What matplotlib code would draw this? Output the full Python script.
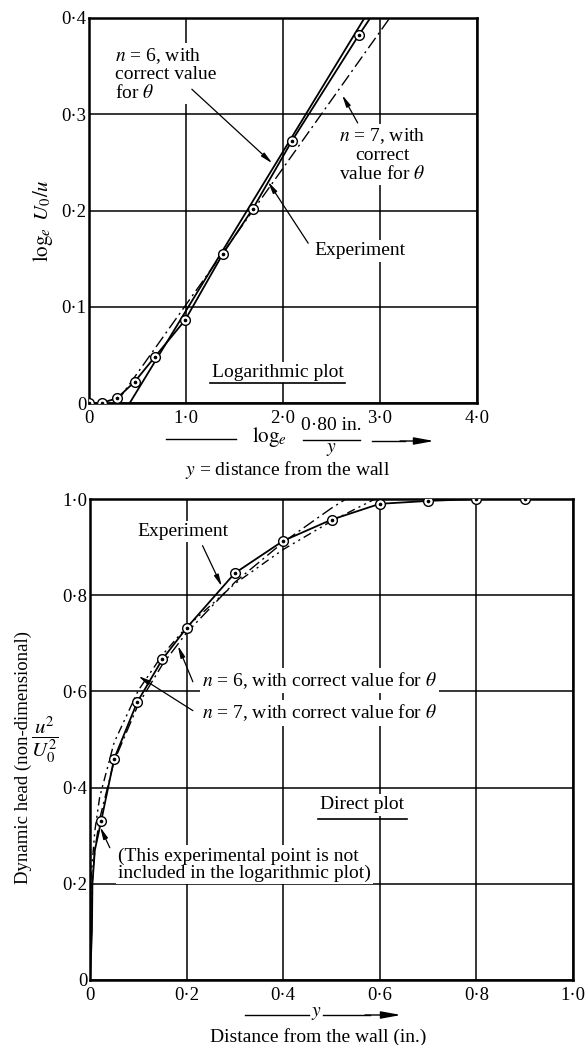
import matplotlib
matplotlib.use("Agg")
import matplotlib.pyplot as plt
from matplotlib.lines import Line2D
from matplotlib.ticker import FixedLocator, FuncFormatter

W, H = 586, 1045

plt.rcParams["font.family"] = ["Liberation Serif", "DejaVu Serif"]
plt.rcParams["mathtext.fontset"] = "stix"

# Logarithmic plot: log_e(0.80 in./y) against log_e(U0/u)
log_pts_x = [0.0, 0.13, 0.29, 0.47, 0.68, 0.99, 1.38, 1.69, 2.09, 2.78]
log_pts_y = [0.0, 0.0, 0.005, 0.022, 0.048, 0.086, 0.155, 0.202, 0.272, 0.382]
log_exp_x = [0.0, 0.13, 0.29, 0.47, 0.68, 0.99, 1.38, 1.69, 2.09, 2.78, 2.90]
log_exp_y = [0.0, 0.0, 0.005, 0.022, 0.048, 0.086, 0.155, 0.202, 0.272, 0.382, 0.40]
log_n6_x = [0.42, 2.84]
log_n6_y = [0.0, 0.40]
log_n7_x = [0.28, 3.10]
log_n7_y = [0.0, 0.40]
log_xticks = [0.0, 1.0, 2.0, 3.0, 4.0]
log_yticks = [0.0, 0.1, 0.2, 0.3, 0.4]

# Direct plot: distance from the wall (in.) against u^2/U0^2
dir_pts_x = [0.023, 0.05, 0.098, 0.15, 0.20, 0.30, 0.40, 0.50, 0.60, 0.70, 0.80, 0.90]
dir_pts_y = [0.33, 0.46, 0.578, 0.667, 0.732, 0.846, 0.913, 0.957, 0.99, 0.996, 1.0, 1.0]
dir_exp_x = [0.0, 0.004, 0.005, 0.01, 0.023, 0.05, 0.098, 0.15, 0.20, 0.30, 0.40, 0.50,
             0.60, 0.70, 0.80, 0.90, 1.0]
dir_exp_y = [0.0, 0.10, 0.20, 0.27, 0.33, 0.46, 0.578, 0.667, 0.732, 0.846, 0.913, 0.957,
             0.99, 0.996, 1.0, 1.0, 1.0]
dir_n6_x = [0.0, 0.002, 0.01, 0.02, 0.05, 0.10, 0.15, 0.20, 0.30, 0.40, 0.50, 0.53]
dir_n6_y = [0.0, 0.17, 0.27, 0.335, 0.455, 0.573, 0.656, 0.722, 0.827, 0.91, 0.981, 1.0]
dir_n7_x = [0.0, 0.002, 0.01, 0.02, 0.05, 0.10, 0.15, 0.20, 0.30, 0.40, 0.50, 0.59]
dir_n7_y = [0.0, 0.21, 0.31, 0.38, 0.494, 0.602, 0.676, 0.734, 0.824, 0.895, 0.954, 1.0]
dir_xticks = [0.0, 0.2, 0.4, 0.6, 0.8, 1.0]
dir_yticks = [0.0, 0.2, 0.4, 0.6, 0.8, 1.0]

FS = 14
TICK_FS = 13.5
WHITE = dict(facecolor="white", edgecolor="none", pad=1.5)
ARROW = dict(arrowstyle="-|>,head_length=0.7,head_width=0.14", color="black",
             lw=0.9, shrinkA=0, shrinkB=0)


def fig_xy(x, y):
    """Pixel position (from top left) to figure fraction."""
    return x / W, 1 - y / H


def dot_label(v, pos):
    if abs(v) < 1e-9:
        return "0"
    return f"{v:.1f}".replace(".", "\u00b7")


def style_axes(ax, xlim, ylim, xticks, yticks):
    ax.set_xlim(*xlim)
    ax.set_ylim(*ylim)
    ax.xaxis.set_major_locator(FixedLocator(xticks))
    ax.yaxis.set_major_locator(FixedLocator(yticks))
    ax.xaxis.set_major_formatter(FuncFormatter(dot_label))
    ax.yaxis.set_major_formatter(FuncFormatter(dot_label))
    ax.tick_params(length=0, labelsize=TICK_FS)
    ax.tick_params(axis="x", pad=5)
    ax.tick_params(axis="y", pad=2)
    ax.grid(True, color="black", lw=1.1)
    ax.set_axisbelow(True)
    for sp in ax.spines.values():
        sp.set_linewidth(1.8)


def draw_points(ax, xs, ys):
    ax.plot(xs, ys, ls="none", marker="o", ms=7, mfc="white", mec="black", mew=1.0, zorder=4)
    ax.plot(xs, ys, ls="none", marker="o", ms=1.6, mfc="black", mec="black", zorder=5)


fig = plt.figure(figsize=(W / 100, H / 100), dpi=100)

# --- logarithmic plot ---
ax1 = fig.add_axes([89 / W, 1 - 403 / H, (477 - 89) / W, (403 - 18) / H])
style_axes(ax1, (0, 4.0), (0, 0.4), log_xticks, log_yticks)
ax1.plot(log_exp_x, log_exp_y, color="black", lw=1.3, zorder=3)
ax1.plot(log_n6_x, log_n6_y, color="black", lw=1.3, zorder=3)
ax1.plot(log_n7_x, log_n7_y, color="black", lw=1.0, ls=(0, (9, 3, 1.5, 3)), zorder=3)
draw_points(ax1, log_pts_x, log_pts_y)

ax1.text(0.27, 0.342, "$n$ = 6, with\ncorrect value\nfor $\\theta$", fontsize=FS,
         ha="left", va="center", linespacing=1.05, bbox=WHITE, zorder=6)
ax1.annotate("", xy=(1.89, 0.249), xytext=(1.06, 0.326), arrowprops=ARROW, zorder=6)
ax1.text(3.02, 0.258, "$n$ = 7, with\ncorrect\nvalue for $\\theta$", fontsize=FS,
         ha="center", va="center", linespacing=1.05, bbox=WHITE, zorder=6)
ax1.annotate("", xy=(2.61, 0.32), xytext=(2.77, 0.291), arrowprops=ARROW, zorder=6)
ax1.text(2.79, 0.158, "Experiment", fontsize=FS, ha="center", va="center",
         bbox=WHITE, zorder=6)
ax1.annotate("", xy=(1.845, 0.23), xytext=(2.26, 0.166), arrowprops=ARROW, zorder=6)
ax1.text(1.95, 0.032, "Logarithmic plot", fontsize=FS, ha="center", va="center",
         bbox=WHITE, zorder=6)
ax1.plot([1.25, 2.64], [0.021, 0.021], color="black", lw=1.2, zorder=7)

ax1.text(-0.47, 0.19, "$\\log_e\\ U_0/u$", fontsize=FS + 1, rotation=90,
         ha="center", va="center", transform=ax1.transData, clip_on=False)

# axis label under the logarithmic plot
fig.add_artist(Line2D([166 / W, 236 / W], [1 - 439 / H] * 2, color="black", lw=1.0))
fig.text(*fig_xy(270, 437), "$\\log_e$", fontsize=FS + 1, ha="center", va="center")
fig.text(*fig_xy(331, 426), "0\u00b780 in.", fontsize=FS, ha="center", va="center")
fig.add_artist(Line2D([303 / W, 360 / W], [1 - 440 / H] * 2, color="black", lw=1.0))
fig.text(*fig_xy(331, 450), "$y$", fontsize=FS, ha="center", va="center")
fig.add_artist(Line2D([372 / W, 405 / W], [1 - 441 / H] * 2, color="black", lw=1.0))
ax1.annotate("", xy=fig_xy(434, 441), xytext=fig_xy(400, 441), xycoords="figure fraction",
             textcoords="figure fraction",
             arrowprops=dict(arrowstyle="-|>,head_length=1.2,head_width=0.22",
                             color="black", lw=1.0, shrinkA=0, shrinkB=0))
fig.text(*fig_xy(288, 470), "$y$ = distance from the wall", fontsize=FS,
         ha="center", va="center")

# --- direct plot ---
ax2 = fig.add_axes([90 / W, 1 - 980 / H, (573 - 90) / W, (980 - 499) / H])
style_axes(ax2, (0, 1.0), (0, 1.0), dir_xticks, dir_yticks)
ax2.plot(dir_exp_x, dir_exp_y, color="black", lw=1.3, zorder=3)
ax2.plot(dir_n6_x, dir_n6_y, color="black", lw=1.0, ls=(0, (9, 3, 1.5, 3)), zorder=3)
ax2.plot(dir_n7_x, dir_n7_y, color="black", lw=1.0, ls=(0, (6, 3, 1.5, 3, 1.5, 3)), zorder=3)
draw_points(ax2, dir_pts_x, dir_pts_y)

ax2.text(0.193, 0.933, "Experiment", fontsize=FS, ha="center", va="center",
         bbox=WHITE, zorder=6)
ax2.annotate("", xy=(0.273, 0.818), xytext=(0.233, 0.903), arrowprops=ARROW, zorder=6)
ax2.text(0.232, 0.622, "$n$ = 6, with correct value for $\\theta$", fontsize=FS,
         ha="left", va="center", bbox=WHITE, zorder=6)
ax2.annotate("", xy=(0.182, 0.695), xytext=(0.213, 0.62), arrowprops=ARROW, zorder=6)
ax2.text(0.232, 0.555, "$n$ = 7, with correct value for $\\theta$", fontsize=FS,
         ha="left", va="center", bbox=WHITE, zorder=6)
ax2.annotate("", xy=(0.10, 0.632), xytext=(0.213, 0.56), arrowprops=ARROW, zorder=6)
ax2.text(0.563, 0.364, "Direct plot", fontsize=FS, ha="center", va="center",
         bbox=WHITE, zorder=6)
ax2.plot([0.472, 0.656], [0.335, 0.335], color="black", lw=1.2, zorder=7)
ax2.text(0.058, 0.24, "(This experimental point is not\nincluded in the logarithmic plot)",
         fontsize=FS, ha="left", va="center", linespacing=1.0, bbox=WHITE, zorder=6)
ax2.annotate("", xy=(0.021, 0.318), xytext=(0.041, 0.275), arrowprops=ARROW, zorder=6)

fig.text(*fig_xy(23, 757), "Dynamic head (non-dimensional)", fontsize=13.5,
         rotation=90, ha="center", va="center")
fig.text(*fig_xy(45, 740), "$\\dfrac{u^2}{U_0^2}$", fontsize=FS + 1,
         ha="center", va="center")

# axis label under the direct plot
fig.add_artist(Line2D([245 / W, 309 / W], [1 - 1015 / H] * 2, color="black", lw=1.0))
fig.text(*fig_xy(316, 1013), "$y$", fontsize=FS, ha="center", va="center")
fig.add_artist(Line2D([323 / W, 370 / W], [1 - 1015 / H] * 2, color="black", lw=1.0))
ax2.annotate("", xy=fig_xy(401, 1015), xytext=fig_xy(365, 1015), xycoords="figure fraction",
             textcoords="figure fraction",
             arrowprops=dict(arrowstyle="-|>,head_length=1.2,head_width=0.22",
                             color="black", lw=1.0, shrinkA=0, shrinkB=0))
fig.text(*fig_xy(318, 1037), "Distance from the wall (in.)", fontsize=FS,
         ha="center", va="center")

fig.savefig("out.png", dpi=100, facecolor="white")
